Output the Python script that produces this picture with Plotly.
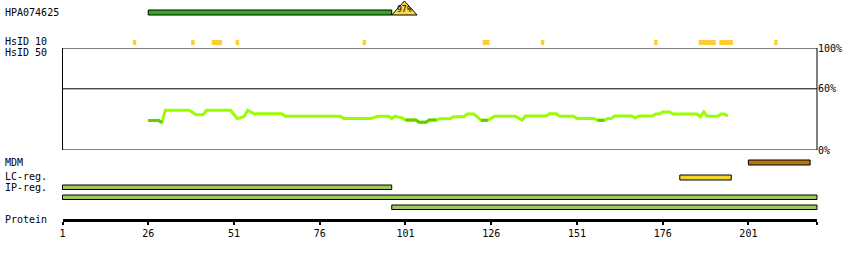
import plotly.graph_objects as go

# ---------------- data ----------------
protein_length = 221
tick_residues = [1, 26, 51, 76, 101, 126, 151, 176, 201]

antibody_name = "HPA074625"
antibody_start = 26
antibody_end = 97
antibody_identity = 97

hsid10_starts = [22, 39, 45, 52, 89, 124, 141, 174, 187, 193, 209]
hsid10_ends = [22, 39, 47, 52, 89, 125, 141, 174, 191, 196, 209]

mdm_starts = [201]
mdm_ends = [219]
lc_starts = [181]
lc_ends = [196]
ip_starts = [1, 1, 97]
ip_ends = [97, 221, 221]

line_residues = [26, 29, 30, 31, 38, 40, 42, 43, 50, 52, 54, 55, 57, 58, 65, 66, 82, 83, 91, 93,
                 96, 97, 98, 100, 101, 104, 105, 107, 108, 110, 111, 114, 115, 118, 119, 121, 123,
                 125, 127, 133, 135, 136, 142, 143, 145, 146, 150, 151, 156, 157, 159, 160, 161,
                 162, 167, 168, 169, 173, 174, 175, 176, 178, 179, 186, 187, 188, 189, 192, 193,
                 194, 195]
line_identity = [29, 29, 27, 39, 39, 34.6, 34.6, 39, 39, 30.7, 33, 39, 35.3, 35.6, 35.6, 33, 33, 31,
                 31, 33, 33, 31, 33, 31.5, 29.4, 29.4, 27.1, 27.1, 29.4, 29.4, 30.7, 30.7, 32.7,
                 32.7, 35.3, 35.3, 29.1, 29.1, 33, 33, 29.4, 33.3, 33.3, 35.6, 35.6, 33, 33, 31,
                 31, 29.1, 29.1, 31, 31, 33.3, 33.3, 31.4, 33.3, 33.3, 35.3, 35.3, 37.3, 37.3,
                 35.3, 35.3, 32.4, 37.5, 33, 33, 35.3, 35.3, 33]
low_threshold = 30
pct_tick_vals = [0, 60, 100]
pct_tick_text = ["0%", "60%", "100%"]

# ---------------- styling / layout ----------------
W, H = 850, 260
px_per_res = 3.4295
left_px = 62.5
r0 = 1 - left_px / px_per_res
r1 = r0 + W / px_per_res
FONT = "DejaVu Sans Mono"

fig = go.Figure()

fig.add_trace(go.Scatter(x=line_residues, y=line_identity, mode="lines",
                         line=dict(color="#99ff00", width=3), xaxis="x", yaxis="y2",
                         hoverinfo="skip", showlegend=False))
dark_y = [v if v < low_threshold else None for v in line_identity]
fig.add_trace(go.Scatter(x=line_residues, y=dark_y, mode="lines", connectgaps=False,
                         line=dict(color="#66cc00", width=3), xaxis="x", yaxis="y2",
                         hoverinfo="skip", showlegend=False))
fig.add_trace(go.Scatter(x=[100], y=[130], mode="markers", marker=dict(opacity=0, size=1),
                         xaxis="x2", yaxis="y", hoverinfo="skip", showlegend=False))

shapes = []


def bar(x0, x1, y0, y1, color):
    shapes.append(dict(type="rect", xref="x", yref="y", x0=x0, x1=x1, y0=y0, y1=y1,
                       fillcolor=color, line=dict(color="black", width=1), layer="above"))


bar(antibody_start, antibody_end, 10, 15, "#33aa22")
apex = antibody_end + 3.7
shapes.append(dict(type="path", xref="x", yref="y",
                   path=f"M {antibody_end},15 L {antibody_end + 7.4},15 L {apex},1 Z",
                   fillcolor="#f2d94e", line=dict(color="black", width=1), layer="above"))

for s, e in zip(hsid10_starts, hsid10_ends):
    shapes.append(dict(type="rect", xref="x", yref="y", x0=s - 0.5, x1=e + 0.5, y0=40, y1=45,
                       fillcolor="#ffcc33", line=dict(width=0), layer="above"))

shapes.append(dict(type="rect", xref="x", yref="y2", x0=1, x1=protein_length, y0=0, y1=100,
                   line=dict(color="black", width=1), layer="below"))
shapes.append(dict(type="line", xref="x", yref="y2", x0=1, x1=protein_length, y0=60, y1=60,
                   line=dict(color="black", width=1), layer="below"))

for s, e in zip(mdm_starts, mdm_ends):
    bar(s, e, 160, 165, "#b8720c")
for s, e in zip(lc_starts, lc_ends):
    bar(s, e, 175, 180, "#f2d52b")
for i, (s, e) in enumerate(zip(ip_starts, ip_ends)):
    y0 = 185 + 10 * i
    bar(s, e, y0, y0 + 4.5, "#9fca5a")

annotations = []


def label(text, y, x=3, size=10):
    annotations.append(dict(text=text, xref="paper", yref="paper", x=x / W, y=1 - y / H,
                            xanchor="left", yanchor="middle", showarrow=False,
                            font=dict(family=FONT, size=size, color="black")))


label(antibody_name, 12.5)
label("HsID 10", 42)
label("HsID 50", 52.5)
label("MDM", 162.5)
label("LC-reg.", 176.5)
label("IP-reg.", 187.5)
label("Protein", 219.5)
annotations.append(dict(text=f"{antibody_identity}%", xref="x", yref="y", x=apex, y=9.5,
                        xanchor="center", yanchor="middle", showarrow=False,
                        font=dict(family=FONT, size=8, color="black")))

fig.update_layout(
    width=W, height=H, margin=dict(l=0, r=0, t=0, b=0, pad=0, autoexpand=False),
    paper_bgcolor="white", plot_bgcolor="rgba(0,0,0,0)",
    showlegend=False, shapes=shapes, annotations=annotations,
    xaxis=dict(domain=[0, 1], range=[r0, r1], visible=False, fixedrange=True, automargin=False),
    xaxis2=dict(domain=[left_px / W, (left_px + (protein_length - 1) * px_per_res) / W],
                range=[1, protein_length], anchor="free", position=1 - 219.8 / H,
                showline=True, linewidth=3, linecolor="black", mirror=False, automargin=False,
                ticks="outside", ticklen=3, tickwidth=1.5, tickcolor="black",
                tickvals=tick_residues + [protein_length],
                ticktext=[str(t) for t in tick_residues] + [""],
                tickfont=dict(family=FONT, size=10, color="black"),
                showgrid=False, zeroline=False, fixedrange=True),
    yaxis=dict(domain=[0, 1], range=[H, 0], visible=False, fixedrange=True, automargin=False),
    yaxis2=dict(domain=[1 - 150 / H, 1 - 48 / H], range=[0, 100], anchor="free",
                position=(left_px + (protein_length - 1) * px_per_res) / W, side="right",
                tickvals=pct_tick_vals, ticktext=pct_tick_text, ticks="", showline=False,
                showgrid=False, zeroline=False, fixedrange=True, automargin=False,
                tickfont=dict(family=FONT, size=10, color="black")),
)

fig.write_html("out.html")
